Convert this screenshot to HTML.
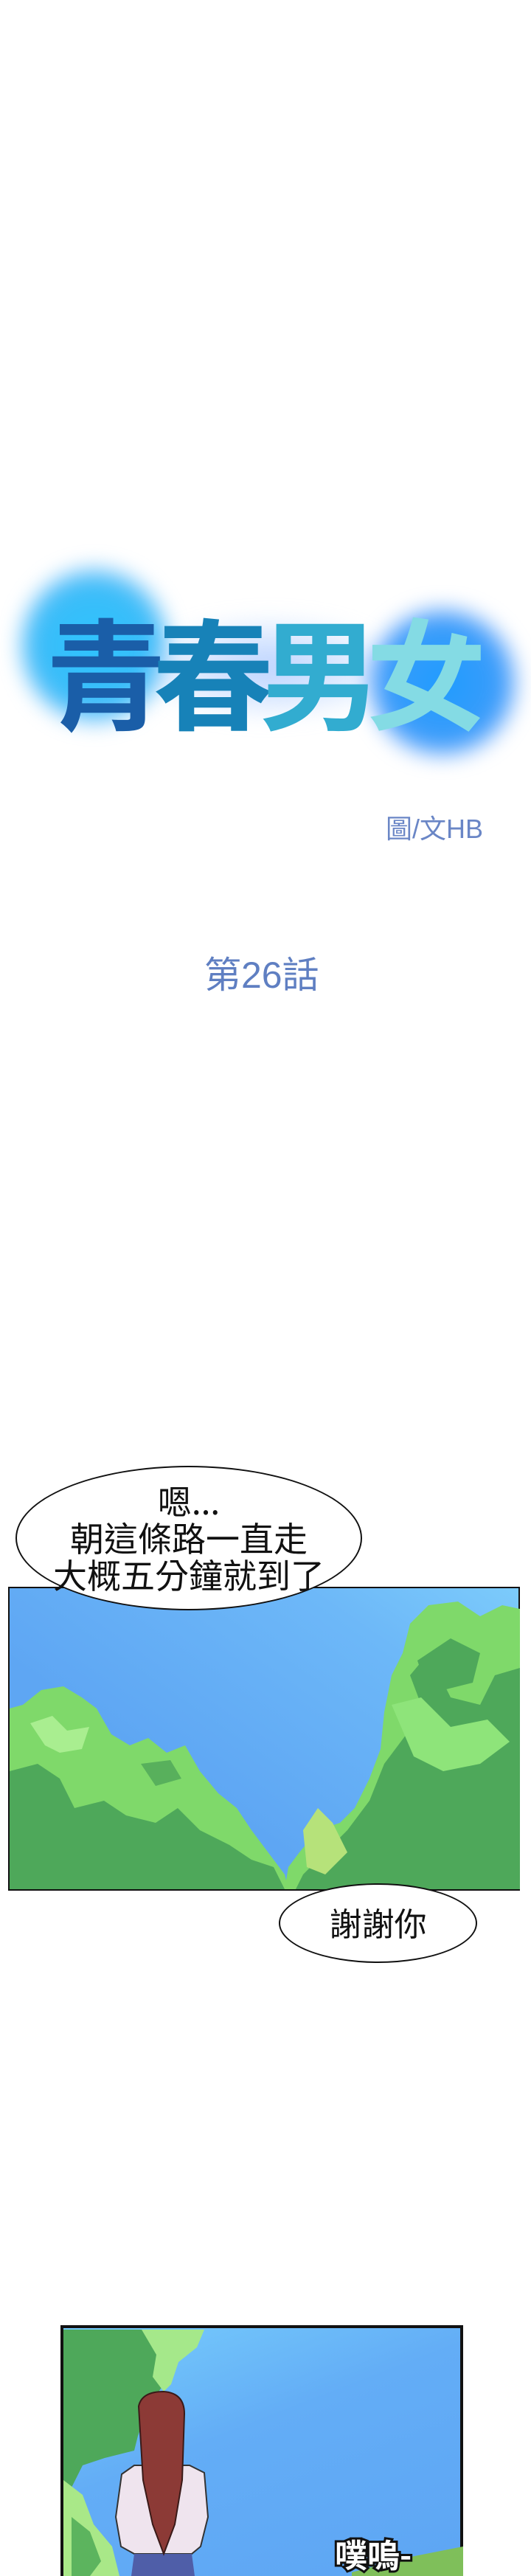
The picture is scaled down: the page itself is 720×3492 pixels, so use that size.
<!DOCTYPE html>
<html><head><meta charset="utf-8">
<style>
html,body{margin:0;padding:0;background:#fff;}
body{width:720px;height:3492px;position:relative;overflow:hidden;font-family:"Liberation Sans","Noto Sans CJK TC",sans-serif;}
.abs{position:absolute;}
.blob{position:absolute;border-radius:50%;filter:blur(14px);}
.ttl{position:absolute;top:812px;font-size:164px;line-height:190px;font-weight:700;font-family:"Noto Sans CJK TC",sans-serif;}
.bubble{position:absolute;border:2px solid #111;border-radius:50%;background:#fff;text-align:center;color:#111;font-family:"Noto Sans CJK TC",sans-serif;}
</style></head>
<body>
<div class="blob" style="left:28px;top:770px;width:200px;height:210px;background:radial-gradient(circle,#2ec4ff 0%,#3bbcf8 55%,rgba(120,170,255,0.5) 80%,rgba(255,255,255,0) 100%);"></div>
<div class="blob" style="left:200px;top:840px;width:330px;height:130px;background:radial-gradient(ellipse,rgba(140,180,255,0.6) 0%,rgba(180,210,255,0.3) 60%,rgba(255,255,255,0) 100%);"></div>
<div class="blob" style="left:500px;top:825px;width:200px;height:200px;background:radial-gradient(circle,#1f9cff 0%,#3a9cfa 55%,rgba(120,150,255,0.5) 80%,rgba(255,255,255,0) 100%);"></div>
<div>
<span class="ttl" style="left:62px;color:#1a5ea8;">青</span>
<span class="ttl" style="left:207px;color:#1782b8;">春</span>
<span class="ttl" style="left:352px;color:#32acd0;">男</span>
<span class="ttl" style="left:496px;color:#84dbe4;">女</span>
</div>
<div class="abs" style="left:523px;top:1104px;font-size:36px;line-height:40px;color:#6a86c6;">圖/文HB</div>
<div class="abs" style="left:277px;top:1294px;font-size:50px;line-height:56px;color:#5f7fc2;">第26話</div>

<svg class="abs" style="left:11px;top:2151px;" width="694" height="412" viewBox="0 0 694 412">
<defs><linearGradient id="sky1" x1="1" y1="0" x2="0.3" y2="0.6"><stop offset="0" stop-color="#7ccbfb"/><stop offset="0.35" stop-color="#6db8f8"/><stop offset="1" stop-color="#5ea6f3"/></linearGradient></defs>
<rect x="0" y="0" width="694" height="412" fill="url(#sky1)" stroke="#111" stroke-width="4"/>
<path d="M2 165 L20 160 L45 140 L75 135 L100 150 L120 165 L140 200 L165 215 L190 205 L215 225 L240 215 L260 250 L285 280 L310 300 L330 330 L345 350 L360 370 L375 390 L380 410 L2 410 Z" fill="#7fd96a"/>
<path d="M2 250 L40 240 L70 260 L90 300 L130 290 L160 310 L200 320 L230 300 L260 330 L300 350 L330 370 L360 380 L375 410 L2 410 Z" fill="#4ea85a"/>
<path d="M30 185 L60 175 L80 195 L110 190 L100 220 L70 225 L50 215 Z" fill="#a9ee90"/>
<path d="M180 240 L220 235 L235 260 L200 270 Z" fill="#58b05c"/>
<path d="M694 30 L670 25 L640 40 L610 20 L570 25 L545 50 L535 90 L520 120 L510 170 L505 220 L490 260 L470 300 L450 320 L420 330 L395 360 L380 380 L375 410 L694 410 Z" fill="#7fd96a"/>
<path d="M694 110 L660 120 L640 160 L600 150 L570 90 L545 120 L560 160 L540 200 L510 240 L490 290 L460 330 L430 360 L400 390 L390 410 L694 410 Z" fill="#4ea85a"/>
<path d="M555 100 L600 70 L640 90 L630 130 L590 140 L565 130 Z" fill="#4ea85a"/>
<path d="M520 160 L560 150 L600 190 L650 180 L680 210 L640 240 L590 250 L550 230 Z" fill="#8ee47a"/>
<path d="M400 330 L420 300 L440 320 L460 360 L430 390 L405 380 Z" fill="#b6e27a"/>
</svg>
<div class="bubble" style="left:21px;top:1987px;width:466px;height:192px;">
<div style="margin-top:20px;font-size:46px;line-height:50px;">嗯...<br>朝這條路一直走<br>大概五分鐘就到了</div></div>
<div class="bubble" style="left:378px;top:2553px;width:265px;height:104px;">
<div style="margin-top:25px;font-size:44px;line-height:50px;">謝謝你</div></div>

<svg class="abs" style="left:82px;top:3152px;" width="546" height="340" viewBox="0 0 546 340">
<defs><linearGradient id="sky2" x1="0.2" y1="0" x2="0.8" y2="1"><stop offset="0" stop-color="#74c8fb"/><stop offset="0.4" stop-color="#63adf6"/><stop offset="1" stop-color="#5ea6f4"/></linearGradient></defs>
<rect x="2" y="2" width="542" height="350" fill="url(#sky2)" stroke="#111" stroke-width="4"/>
<path d="M4 6 L190 6 L180 30 L150 50 L140 80 L120 110 L105 150 L100 170 L60 180 L30 190 L15 220 L4 240 Z" fill="#4ea85a"/>
<path d="M110 6 L195 6 L185 30 L160 50 L150 80 L140 90 L125 70 L130 40 Z" fill="#a5e88a"/>
<path d="M4 210 L30 230 L45 270 L70 300 L80 340 L4 340 Z" fill="#a9e888"/>
<path d="M15 260 L40 280 L55 320 L40 340 L15 340 Z" fill="#5cb45e"/>
<path d="M83 202 L100 190 L175 190 L195 200 L200 260 L190 300 L178 310 L100 310 L82 300 L75 260 Z" fill="#efe4ee" stroke="#333" stroke-width="2"/>
<path d="M100 310 L178 310 L182 340 L96 340 Z" fill="#4f5ea8"/>
<path d="M106 110 Q110 90 140 90 Q168 92 168 120 L165 210 L155 270 L140 310 L125 270 L112 210 Z" fill="#8c3a36" stroke="#3a1a18" stroke-width="2"/>
<path d="M395 335 L470 315 L546 300 L546 340 L395 340 Z" fill="#7fbf5a"/>
<text x="372" y="328" font-size="44" font-family="Noto Sans CJK TC, sans-serif" fill="#fff" stroke="#111" stroke-width="6" paint-order="stroke" font-weight="700">噗嗚-</text>
</svg>
</body></html>
